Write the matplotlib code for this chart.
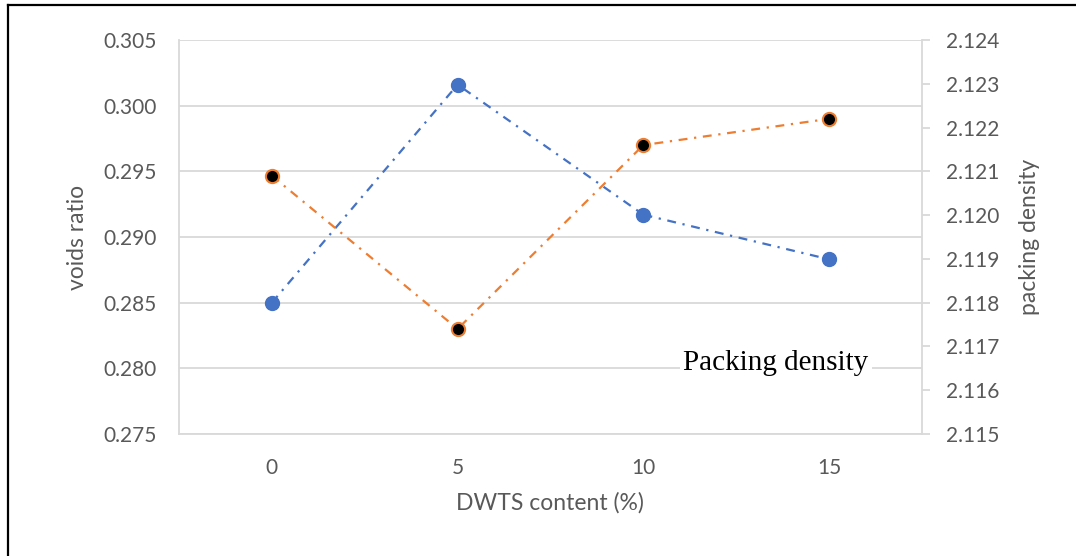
#!/usr/bin/env python3
"""Voids ratio and packing density against DWTS content."""

import matplotlib

matplotlib.use("Agg")
import matplotlib.pyplot as plt
from matplotlib.lines import Line2D

DWTS_CONTENT = ["0", "5", "10", "15"]
VOIDS_RATIO = [0.2850, 0.3016, 0.2917, 0.2883]
PACKING_DENSITY = [2.1209, 2.1174, 2.1216, 2.1222]

LEFT_TICKS = [0.275, 0.280, 0.285, 0.290, 0.295, 0.300, 0.305]
RIGHT_TICKS = [2.115, 2.116, 2.117, 2.118, 2.119, 2.120, 2.121, 2.122, 2.123, 2.124]

BLUE = "#4472C4"
ORANGE = "#ED7D31"
GRID = "#D9D9D9"
TEXT = "#595959"

plt.rcParams["font.family"] = ["Lato", "DejaVu Sans"]


def main() -> None:
    fig = plt.figure(figsize=(10.76, 5.56), dpi=100)
    ax = fig.add_axes([179 / 1076, 1 - 434 / 556, 743 / 1076, 394 / 556])
    ax2 = ax.twinx()

    x = list(range(len(DWTS_CONTENT)))
    dashdot = (0, (4, 3, 1, 3))

    ax.plot(x, VOIDS_RATIO, color=BLUE, lw=1.6, linestyle=dashdot,
            marker="o", markersize=10, markerfacecolor=BLUE, markeredgecolor=BLUE, zorder=3)
    ax2.plot(x, PACKING_DENSITY, color=ORANGE, lw=1.6, linestyle=dashdot,
             marker="o", markersize=9.5, markerfacecolor="black", markeredgecolor=ORANGE,
             markeredgewidth=1.5, zorder=3)

    ax.set_xlim(-0.5, len(DWTS_CONTENT) - 0.5)
    ax.set_xticks(x)
    ax.set_xticklabels(DWTS_CONTENT)
    ax.set_ylim(LEFT_TICKS[0], LEFT_TICKS[-1])
    ax.set_yticks(LEFT_TICKS)
    ax.set_yticklabels([f"{v:.3f}" for v in LEFT_TICKS])
    ax2.set_ylim(RIGHT_TICKS[0], RIGHT_TICKS[-1])
    ax2.set_yticks(RIGHT_TICKS)
    ax2.set_yticklabels([f"{v:.3f}" for v in RIGHT_TICKS])

    ax.grid(True, axis="y", color=GRID, lw=1.3)
    ax.set_axisbelow(True)

    for a in (ax, ax2):
        a.spines["top"].set_visible(False)
        for s in a.spines.values():
            s.set_color(GRID)
            s.set_linewidth(1.3)
    ax.spines["right"].set_visible(False)
    ax2.spines["left"].set_visible(False)
    ax2.spines["bottom"].set_visible(False)

    ax.tick_params(axis="y", length=0, pad=16, labelsize=15, labelcolor=TEXT)
    ax.tick_params(axis="x", length=0, pad=17, labelsize=15, labelcolor=TEXT)
    ax2.tick_params(axis="y", length=6, width=1.3, color=GRID, direction="out",
                    pad=11, labelsize=15, labelcolor=TEXT)

    fig.text(78 / 1076, 1 - 237 / 556, "voids ratio", rotation=90, ha="center", va="center",
             fontsize=16.5, color=TEXT)
    fig.text(1030 / 1076, 1 - 237 / 556, "packing density", rotation=90, ha="center",
             va="center", fontsize=16.5, color=TEXT)
    fig.text(550 / 1076, 1 - 503 / 556, "DWTS content (%)", ha="center", va="center",
             fontsize=16.5, color=TEXT)

    ax2.text(0.8035, 0.18, "Packing density", transform=ax.transAxes, ha="center", va="center",
             fontsize=21, family=["Liberation Serif", "DejaVu Serif"], color="black",
             bbox=dict(facecolor="white", edgecolor="none", pad=2), zorder=5)

    # partial frame around the chart
    fig.add_artist(Line2D([8 / 1076, 8 / 1076], [0, 1 - 5 / 556], transform=fig.transFigure,
                          color="black", lw=1.6))
    fig.add_artist(Line2D([8 / 1076, 1], [1 - 5 / 556, 1 - 5 / 556], transform=fig.transFigure,
                          color="black", lw=1.6))

    fig.savefig("out.png", dpi=100)
    plt.close(fig)


if __name__ == "__main__":
    main()
